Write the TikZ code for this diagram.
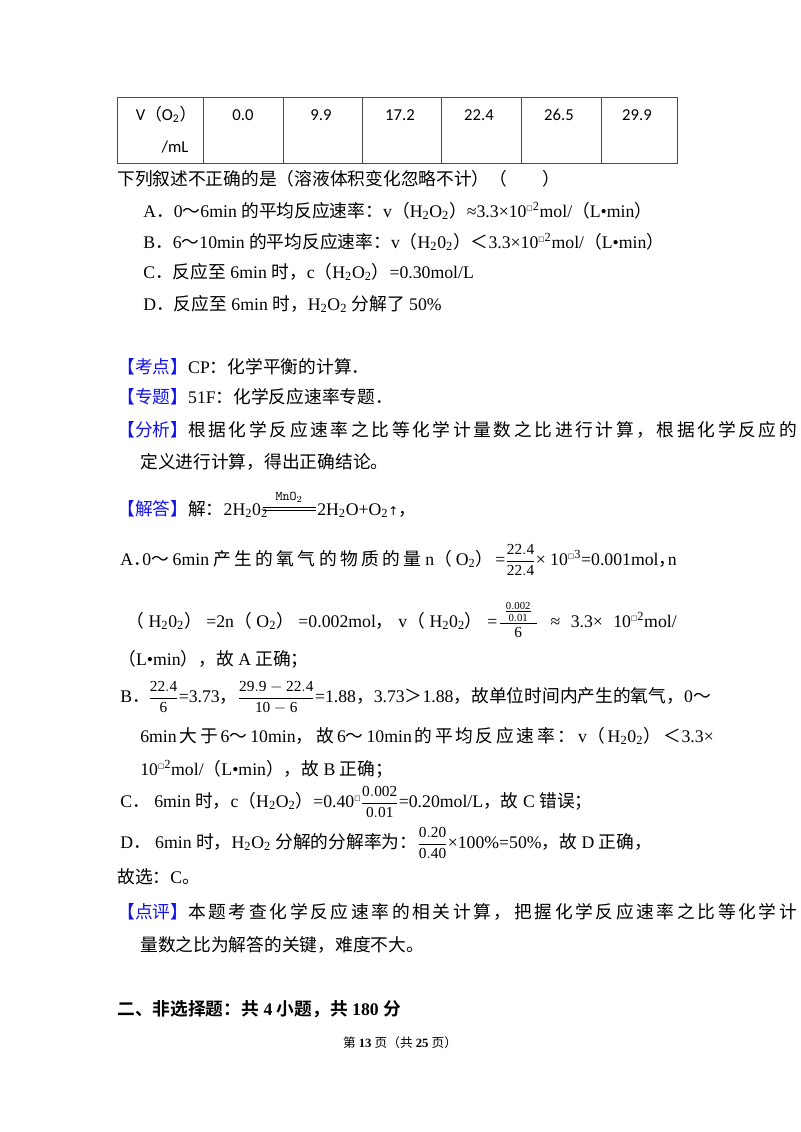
\documentclass[tikz,border=0pt]{standalone}
\usepackage{fontspec}
\setmainfont{Liberation Serif}
\newfontfamily\cjk{Noto Sans CJK SC}[BoldFont=Noto Sans CJK SC Bold]
\newfontfamily\djv{DejaVu Sans}
\newfontfamily\tabf{Carlito}
\newcommand\C[1]{{\cjk #1}}
\newcommand\s{\textsubscript{2}}
\newcommand\bx{\raisebox{0.75ex}{\djv\tiny □}}
\newcommand\W[2]{\makebox[\dimexpr #1pt*3/4\relax][s]{#2}}
\newcommand\fs{\fontsize{13.3}{16}\selectfont}
\newcommand\fr[2]{{\fontsize{11.5}{12}\selectfont$\displaystyle\frac{\mathrm{#1}}{\mathrm{#2}}$}}
\definecolor{kblue}{RGB}{20,20,230}
\newcommand\tag[1]{\textcolor{kblue}{\C{【#1】}}}
\begin{document}
\begin{tikzpicture}[x=0.75pt,y=-0.75pt,
  t/.style={anchor=base west,inner sep=0,font=\fs},
  te/.style={anchor=base east,inner sep=0,font=\fs},
  cell/.style={anchor=base,inner sep=0,font=\tabf\fontsize{12.5}{14}\selectfont},
  rule/.style={draw=black!70,line width=0.6pt}]
\useasboundingbox (0,0) rectangle (800,1132);
\fill[white] (0,0) rectangle (800,1132);
% table
\draw[rule] (117,97) rectangle (677,163);
\foreach \x in {203,283,362,441,521,601} \draw[rule] (\x,97) -- (\x,163);
\node[cell] (tv) at (166,120) {V\C{（}O\s\C{）}};
\node[cell] (tu) at (175,152) {/mL};
\node[cell] (t1) at (243,120) {0.0};
\node[cell] (t2) at (321,120) {9.9};
\node[cell] (t3) at (400,120) {17.2};
\node[cell] (t4) at (479,120) {22.4};
\node[cell] (t5) at (559,120) {26.5};
\node[cell] (t6) at (637,120) {29.9};
% question
\node[t] (q0) at (117,185) {\C{下列叙述不正确的是（溶液体积变化忽略不计）（\quad\quad）}};
\node[t] (qa) at (143,217) {A\C{．}0\C{～}6min \C{的平均反应速率：}v\C{（}H\s O\s\C{）}≈3.3×10\bx$^{\rm 2}$mol/\C{（}L•min\C{）}};
\node[t] (qb) at (143,248) {B\C{．}6\C{～}10min \C{的平均反应速率：}v\C{（}H\s 0\s\C{）}\C{＜}3.3×10\bx$^{\rm 2}$mol/\C{（}L•min\C{）}};
\node[t] (qc) at (143,278) {C\C{．}\C{反应至} 6min \C{时，}c\C{（}H\s O\s\C{）}=0.30mol/L};
\node[t] (qd) at (143,310) {D\C{．}\C{反应至} 6min \C{时，}H\s O\s\ \C{分解了} 50\%};
% analysis
\node[t] (k1) at (117,373) {\tag{考点}CP\C{：化学平衡的计算．}};
\node[t] (k2) at (117,403) {\tag{专题}51F\C{：化学反应速率专题．}};
\node[t] (k3) at (117,436) {\tag{分析}\W{497}{\C{根 据 化 学 反 应 速 率 之 比 等 化 学 计 量 数 之 比 进 行 计 算 ， 根 据 化 学 反 应 的}}};
\node[t] (k4) at (140,468) {\C{定义进行计算，得出正确结论。}};
% equation
\node[t] (e0) at (117,515) {\tag{解答}\C{解：}2H\s 0\s};
\coordinate (b1) at (263,507); \coordinate (b2) at (316,507);
\coordinate (b3) at (263,510); \coordinate (b4) at (316,510);
\draw[line width=0.5pt] (b1) -- (b2) (b3) -- (b4);
\node[anchor=base,inner sep=0,font=\ttfamily] (mn) at (289,500) {MnO$_2$};
\node[t] (e1) at (317,515) {2H\s O+O\s{\djv\small ↑}\C{，}};
% A
\node[t] (a1) at (120,565) {A\C{．}};
\node[t] (a2) at (142,565) {\W{351}{0\C{～} 6min \C{产 生 的 氧 气 的 物 质 的 量} n\C{（} O\s\C{）}}};
\node[t] (a3) at (495,565) {=\fr{22.4}{22.4}× 10\bx$^{\rm 3}$=0.001mol\C{，}};
\node[te] (a4) at (677,565) {n};
\node[t] (a5) at (126,627) {\W{371}{\C{（} H\s 0\s\C{）} =2n\C{（} O\s\C{）} =0.002mol\C{，} v\C{（} H\s 0\s\C{）} =}};
\node[t] (a6) at (498,627) {{\fontsize{11.5}{12}\selectfont$\displaystyle\frac{\;\frac{\mathrm{0.002}}{\mathrm{0.01}}\;}{\mathrm{6}}$}};
\node[te] (a7) at (677,627) {\W{126}{≈ 3.3× 10\bx$^{\rm 2}$mol/}};
\node[t] (a8) at (118,665) {\C{（}L•min\C{），故} A \C{正确；}};
% B
\node[t] (bb1) at (120,702) {B\C{．}};
\node[t] (bb2) at (148,702) {\fr{22.4}{6}=3.73\C{，}\fr{29.9-22.4}{10-6}=1.88\C{，}3.73\C{＞}1.88\C{，故单位时间内产生的氧气，}0\C{～}};
\node[t] (bb3) at (140,742) {\W{537}{6min \C{大 于} 6\C{～} 10min\C{，} \C{故} 6\C{～} 10min \C{的 平 均 反 应 速 率 ：} v\C{（} H\s 0\s\C{）} \C{＜}3.3×}};
\node[t] (bb4) at (140,775) {10\bx$^{\rm 2}$mol/\C{（}L•min\C{），故} B \C{正确；}};
% C
\node[t] (c1) at (120,807) {C\C{．} 6min \C{时，}c\C{（}H\s O\s\C{）}=0.40\bx\fr{0.002}{0.01}=0.20mol/L\C{，故} C \C{错误；}};
% D
\node[t] (d1) at (120,848) {D\C{．} 6min \C{时，}H\s O\s\ \C{分解的分解率为：}\fr{0.20}{0.40}×100\%=50\%\C{，故} D \C{正确，}};
\node[t] (g1) at (117,883) {\C{故选：}C\C{。}};
\node[t] (p1) at (117,918) {\tag{点评}\W{497}{\C{本 题 考 查 化 学 反 应 速 率 的 相 关 计 算 ， 把 握 化 学 反 应 速 率 之 比 等 化 学 计}}};
\node[t] (p2) at (140,951) {\C{量数之比为解答的关键，难度不大。}};
\node[t] (h1) at (117,1015) {\bfseries\C{\bfseries 二、非选择题：共} 4 \C{\bfseries 小题，共} 180 \C{\bfseries 分}};
\node[anchor=base,inner sep=0,font=\fontsize{9.5}{11}\selectfont] (ft) at (400,1047) {\C{第} \textbf{13} \C{页（共} \textbf{25} \C{页）}};
\end{tikzpicture}
\end{document}
